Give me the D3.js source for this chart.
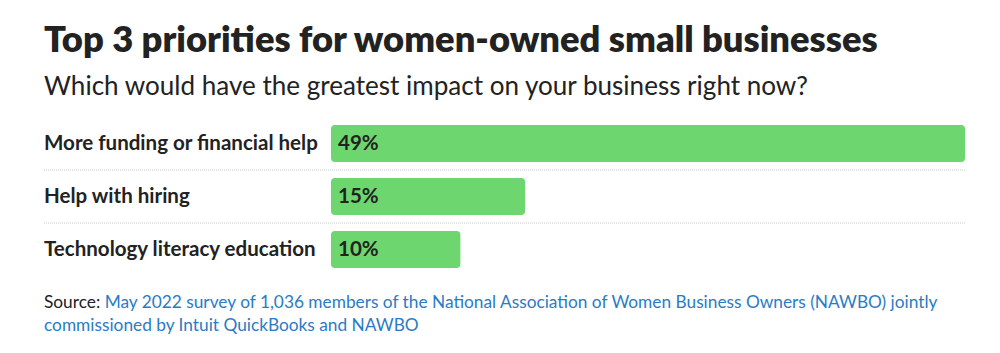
<!DOCTYPE html>
<html>
<head>
<meta charset="utf-8">
<script src="https://cdn.jsdelivr.net/npm/d3@7"></script>
<style>
  body { margin: 0; background: #fff; }
  svg { display: block; font-family: Lato, "Noto Sans", sans-serif; }
</style>
</head>
<body>
<div id="chart"></div>
<script>
const categories = ['More funding or financial help', 'Help with hiring', 'Technology literacy education'];
const values = [49, 15, 10];
const valueLabels = ['49%', '15%', '10%'];

const titleText = 'Top 3 priorities for women-owned small businesses';
const subtitleText = 'Which would have the greatest impact on your business right now?';
const sourceLead = 'Source: ';
const sourceLine1 = 'May 2022 survey of 1,036 members of the National Association of Women Business Owners (NAWBO) jointly';
const sourceLine2 = 'commissioned by Intuit QuickBooks and NAWBO';

const width = 1000, height = 353;
const left = 44;

const svg = d3.select('#chart').append('svg')
    .attr('width', width)
    .attr('height', height);

// shrink/grow font so a line lands on the width seen in the picture
function fit(sel, target) {
  let fs = parseFloat(sel.attr('font-size'));
  const w = sel.node().getComputedTextLength();
  sel.attr('font-size', (fs * target / w).toFixed(2));
}

const title = svg.append('text')
    .attr('x', left).attr('y', 52)
    .attr('font-size', 32).attr('font-weight', 800)
    .attr('fill', '#222')
    .text(titleText);
fit(title, 834);

const subtitle = svg.append('text')
    .attr('x', left).attr('y', 95)
    .attr('font-size', 22)
    .attr('fill', '#222')
    .text(subtitleText);
fit(subtitle, 764);

const x = d3.scaleLinear()
    .domain([0, 49])
    .range([331, 965]);

const y = d3.scaleBand()
    .domain(categories)
    .range([117, 276])
    .paddingInner(0.3)
    .paddingOuter(0.15);

// dotted separators between rows
svg.append('g')
  .selectAll('line')
  .data(categories.slice(1))
  .join('line')
    .attr('x1', left)
    .attr('x2', x(49))
    .attr('y1', d => y(d) - y.step() * y.paddingInner() / 2)
    .attr('y2', d => y(d) - y.step() * y.paddingInner() / 2)
    .attr('stroke', '#c8c8c8')
    .attr('stroke-width', 1)
    .attr('stroke-dasharray', '1,1');

svg.append('g')
  .selectAll('rect')
  .data(values)
  .join('rect')
    .attr('x', x(0))
    .attr('y', (d, i) => y(categories[i]))
    .attr('width', d => x(d) - x(0))
    .attr('height', y.bandwidth())
    .attr('rx', 4)
    .attr('fill', '#6dd66f');

const cats = svg.append('g')
  .selectAll('text')
  .data(categories)
  .join('text')
    .attr('x', left)
    .attr('y', d => y(d) + y.bandwidth() / 2 + 6.5)
    .attr('font-size', 19).attr('font-weight', 700)
    .attr('fill', '#222')
    .text(d => d);
fit(cats.filter((d, i) => i === 0), 274);
cats.attr('font-size', cats.filter((d, i) => i === 0).attr('font-size'));

const vals = svg.append('g')
  .selectAll('text')
  .data(valueLabels)
  .join('text')
    .attr('x', x(0) + 7)
    .attr('y', (d, i) => y(categories[i]) + y.bandwidth() / 2 + 6.5)
    .attr('font-size', cats.attr('font-size')).attr('font-weight', 700)
    .attr('fill', '#222')
    .text(d => d);

const src1 = svg.append('text')
    .attr('x', left).attr('y', 308)
    .attr('font-size', 15);
src1.append('tspan').attr('fill', '#222').text(sourceLead);
src1.append('tspan').attr('fill', '#2a7bc6').text(sourceLine1);
fit(src1, 894);

svg.append('text')
    .attr('x', left).attr('y', 331)
    .attr('font-size', src1.attr('font-size'))
    .attr('fill', '#2a7bc6')
    .text(sourceLine2);
</script>
</body>
</html>
